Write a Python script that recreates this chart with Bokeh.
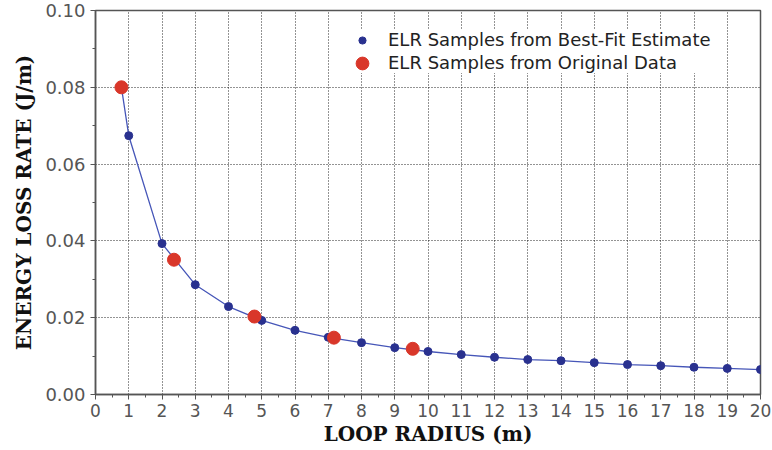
from bokeh.plotting import figure
from bokeh.models import FixedTicker, Legend, LegendItem
from bokeh.embed import file_html
from bokeh.resources import INLINE

# Loop radius (m) and energy loss rate (J/m)
fit_radius = list(range(1, 21))
fit_elr = [0.0674, 0.0393, 0.0286, 0.0229, 0.0193, 0.0167, 0.0149, 0.0135,
           0.0122, 0.0112, 0.0104, 0.0097, 0.0091, 0.0088, 0.0083, 0.0078,
           0.0075, 0.0071, 0.0068, 0.0065]

orig_radius = [0.78, 2.36, 4.78, 7.17, 9.54]
orig_elr = [0.0800, 0.0351, 0.0203, 0.0148, 0.0119]

x_ticks = list(range(0, 21))
x_minor = [i * 0.5 for i in range(0, 41)]
y_ticks = [0.0, 0.02, 0.04, 0.06, 0.08, 0.10]
y_minor = [i * 0.01 for i in range(0, 11)]

# curve starts at the first original-data sample and runs through the fit samples
curve_x = [orig_radius[0]] + fit_radius
curve_y = [orig_elr[0]] + fit_elr

p = figure(width=772, height=450, output_backend="svg", toolbar_location=None,
           x_range=(0, 20), y_range=(0, 0.10),
           min_border_left=95, min_border_right=12, min_border_top=10,
           min_border_bottom=56)
p.background_fill_color = "white"
p.border_fill_color = "white"
p.outline_line_color = "#555555"
p.outline_line_width = 1.5

for ax in (p.xaxis[0], p.yaxis[0]):
    ax.axis_line_color = "#555555"
    ax.axis_line_width = 1.5
    ax.major_tick_line_color = "#555555"
    ax.minor_tick_line_color = "#555555"
    ax.major_tick_out = 5
    ax.major_tick_in = 0
    ax.minor_tick_out = 3
    ax.minor_tick_in = 0
    ax.major_label_text_font = "DejaVu Sans"
    ax.major_label_text_color = "#555555"
    ax.axis_label_text_font = "DejaVu Serif"
    ax.axis_label_text_font_style = "bold"
    ax.axis_label_text_font_size = "20px"
    ax.axis_label_text_color = "#111111"

p.xaxis[0].major_label_text_font_size = "17px"
p.yaxis[0].major_label_text_font_size = "18px"
p.xaxis[0].ticker = FixedTicker(ticks=x_ticks, minor_ticks=x_minor)
p.yaxis[0].ticker = FixedTicker(ticks=y_ticks, minor_ticks=y_minor)
p.xaxis[0].major_label_overrides = {t: str(t) for t in x_ticks}
p.yaxis[0].major_label_overrides = {t: f"{t:.2f}" for t in y_ticks}
p.xaxis[0].axis_label = "LOOP RADIUS (m)"
p.yaxis[0].axis_label = "ENERGY LOSS RATE (J/m)"
p.xaxis[0].major_label_standoff = 4
p.yaxis[0].major_label_standoff = 5
p.xaxis[0].axis_label_standoff = 2
p.yaxis[0].axis_label_standoff = 6

for g in (p.xgrid[0], p.ygrid[0]):
    g.grid_line_color = "#000000"
    g.grid_line_alpha = 0.85
    g.grid_line_dash = "1 2"
    g.grid_line_width = 1
p.xgrid[0].ticker = FixedTicker(ticks=x_ticks)
p.ygrid[0].ticker = FixedTicker(ticks=y_ticks)

p.line(curve_x, curve_y, line_color="#4656b8", line_width=1.3)
blue = p.scatter(fit_radius, fit_elr, size=8, marker="circle",
                 fill_color="#29318f", line_color="#29318f")
red = p.scatter(orig_radius, orig_elr, size=13, marker="circle",
                fill_color="#d9372a", line_color="#d9372a")

# main legend: white box, both labels, small markers
legend = Legend(items=[
    LegendItem(label="ELR Samples from Best-Fit Estimate", renderers=[blue]),
    LegendItem(label="ELR Samples from Original Data", renderers=[red]),
], location=(258, 321))
legend.background_fill_color = "white"
legend.background_fill_alpha = 1.0
legend.border_line_color = None
legend.label_text_font = "DejaVu Sans"
legend.label_text_font_size = "18px"
legend.label_text_color = "#222222"
legend.glyph_width = 18
legend.glyph_height = 18
legend.label_standoff = 17
legend.spacing = 2
legend.padding = 8
legend.margin = 0
p.add_layout(legend, "center")

# overlay legend drawing the larger marker for the original-data entry
legend_big = Legend(items=[LegendItem(label=" ", renderers=[red])],
                    location=(251, 315))
legend_big.background_fill_alpha = 0.0
legend_big.border_line_color = None
legend_big.label_text_font_size = "18px"
legend_big.glyph_width = 32
legend_big.glyph_height = 32
legend_big.label_standoff = 0
legend_big.padding = 8
legend_big.margin = 0
p.add_layout(legend_big, "center")

open("out.html", "w").write(file_html(p, INLINE))
